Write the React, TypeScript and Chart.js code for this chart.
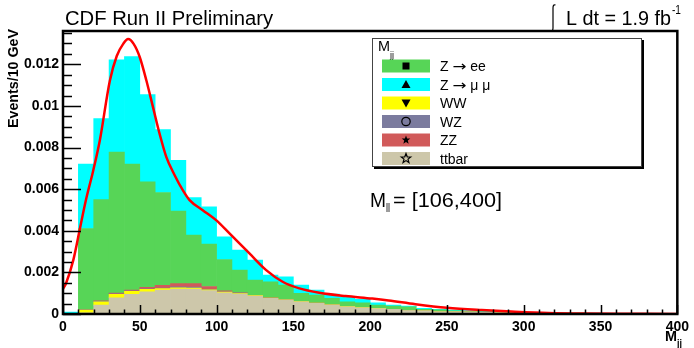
import React, { useEffect, useRef } from 'react';
import { Chart, registerables } from 'chart.js';

Chart.register(...registerables);

// ---- data ----
const binCenters = [5, 15, 25, 35, 45, 55, 65, 75, 85, 95, 105, 115, 125, 135, 145, 155, 165, 175, 185, 195,
  205, 215, 225, 235, 245, 255, 265, 275, 285, 295, 305, 315, 325, 335, 345, 355, 365, 375, 385, 395];

const ttbar = [0.00002, 0.00006, 0.00043, 0.00078, 0.00094, 0.00107, 0.00115, 0.0012, 0.0012, 0.00112,
  0.00102, 0.00096, 0.00086, 0.00075, 0.00067, 0.00059, 0.00051, 0.00043, 0.00035, 0.0003,
  0.00026, 0.00022, 0.00017, 0.00015, 0.00011, 0.0001, 0.00009, 0.00008, 0.00006, 0.00005,
  0.00004, 0.00003, 0.00003, 0.00002, 0.00002, 0.00002, 0.00001, 0.00001, 0.00001, 0.00001];
const ww = [0, 0.00013, 0.00016, 0.00017, 0.00015, 0.00011, 0.00007, 0.00006, 0.00005, 0.00004,
  0.00003, 0.00002, 0.00002, 0.00001, 0.00001, 0.00001, 0.00001, 0.00001, 0.00001, 0.00001,
  0.00001, 0, 0, 0, 0, 0, 0, 0, 0, 0, 0, 0, 0, 0, 0, 0, 0, 0, 0, 0];
const wz = [0, 0.00001, 0.00002, 0.00002, 0.00002, 0.00003, 0.00003, 0.00004, 0.00004, 0.00003,
  0.00002, 0.00002, 0.00001, 0.00001, 0.00001, 0.00001, 0, 0, 0, 0,
  0, 0, 0, 0, 0, 0, 0, 0, 0, 0, 0, 0, 0, 0, 0, 0, 0, 0, 0, 0];
const zz = [0, 0, 0.00002, 0.00003, 0.00004, 0.00007, 0.00013, 0.00016, 0.00017, 0.00013,
  0.00004, 0.00002, 0.00001, 0.00001, 0, 0, 0, 0, 0, 0,
  0, 0, 0, 0, 0, 0, 0, 0, 0, 0, 0, 0, 0, 0, 0, 0, 0, 0, 0, 0];
const zee = [0.00001, 0.00391, 0.00487, 0.00678, 0.00605, 0.00507, 0.00446, 0.00348, 0.00233, 0.00204,
  0.00151, 0.00109, 0.00073, 0.00077, 0.0007, 0.00038, 0.00039, 0.00031, 0.00023, 0.00023,
  0.00016, 0.00016, 0.00018, 0.00007, 0.00009, 0.00005, 0.00004, 0.00003, 0.00003, 0.00003,
  0.00002, 0.00002, 0.00001, 0.00002, 0.00001, 0.00001, 0.00001, 0.00001, 0.00001, 0];
const zmumu = [0.00006, 0.00309, 0.00389, 0.00444, 0.00517, 0.00419, 0.00302, 0.00245, 0.00181, 0.00179,
  0.00109, 0.00096, 0.00096, 0.00032, 0.0004, 0.0004, 0.00024, 0.00021, 0.00024, 0.00016,
  0.00011, 0.00005, 0.00003, 0.00005, 0.00002, 0.00004, 0.00003, 0.00002, 0.00001, 0,
  0.00001, 0.00001, 0.00001, 0.00001, 0.00001, 0, 0.00001, 0, 0, 0.00001];

const fitX = [0, 2, 6.7, 11, 15, 19.7, 24, 30.5, 35, 39.2, 42.4, 46, 50, 54.3, 58.6, 62.9, 67.3, 72.7, 78,
  82.4, 91, 99.7, 108.4, 121.4, 132.3, 143, 153.9, 166.9, 184, 201.4, 212, 229.5, 250, 272.6, 292, 316, 340, 370, 400];
const fitY = [0.0012, 0.00148, 0.00259, 0.0041, 0.0055, 0.0069, 0.00835, 0.01121, 0.0124, 0.01298, 0.01321,
  0.01298, 0.01234, 0.01122, 0.00994, 0.00866, 0.00754, 0.00667, 0.00595, 0.00547, 0.00499, 0.00451,
  0.00387, 0.00291, 0.00211, 0.00155, 0.00123, 0.00102, 0.00086, 0.00074, 0.00065, 0.00047, 0.0003,
  0.00019, 0.00012, 0.00005, 0.00002, 0.00001, 0.000005];

const yTickValues = [0, 0.002, 0.004, 0.006, 0.008, 0.01, 0.012];
const xTickValues = [0, 50, 100, 150, 200, 250, 300, 350, 400];

const seriesLabels = ['ttbar', 'WW', 'WZ', 'ZZ', 'Z \u2192 ee', 'Z \u2192 \u03bc \u03bc'];
const seriesColors = ['#cdc7aa', '#ffff00', '#7b7b9e', '#d15a5a', '#57d557', '#00ffff'];
const seriesValues = [ttbar, ww, wz, zz, zee, zmumu];
const legendOrder = ['Z \u2192 ee', 'Z \u2192 \u03bc \u03bc', 'WW', 'WZ', 'ZZ', 'ttbar'];
const legendMarkers = ['square', 'triUp', 'triDown', 'circle', 'star', 'openStar'];

const FONT = '"Liberation Sans", Arial, Helvetica, sans-serif';

function fitText(ctx: CanvasRenderingContext2D, text: string, x: number, y: number, font: string, width?: number) {
  ctx.save();
  ctx.font = font;
  const w = ctx.measureText(text).width;
  const s = width ? width / w : 1;
  ctx.translate(x, y);
  ctx.scale(s, 1);
  ctx.textAlign = 'left';
  ctx.textBaseline = 'alphabetic';
  ctx.fillStyle = '#000';
  ctx.fillText(text, 0, 0);
  ctx.restore();
  return w * s;
}

function star(ctx: CanvasRenderingContext2D, cx: number, cy: number, r: number, ri: number) {
  ctx.beginPath();
  for (let i = 0; i < 10; i++) {
    const a = -Math.PI / 2 + (i * Math.PI) / 5;
    const rr = i % 2 === 0 ? r : ri;
    const px = cx + rr * Math.cos(a);
    const py = cy + rr * Math.sin(a);
    if (i === 0) ctx.moveTo(px, py); else ctx.lineTo(px, py);
  }
  ctx.closePath();
}

function drawMarker(ctx: CanvasRenderingContext2D, kind: string, x: number, y: number) {
  ctx.save();
  ctx.fillStyle = '#000';
  ctx.strokeStyle = '#000';
  ctx.lineWidth = 1.2;
  if (kind === 'square') {
    ctx.fillRect(x - 3.5, y - 3.5, 7, 7);
  } else if (kind === 'triUp') {
    ctx.beginPath(); ctx.moveTo(x, y - 4.5); ctx.lineTo(x + 4.5, y + 3.5); ctx.lineTo(x - 4.5, y + 3.5); ctx.closePath(); ctx.fill();
  } else if (kind === 'triDown') {
    ctx.beginPath(); ctx.moveTo(x, y + 4.5); ctx.lineTo(x + 4.5, y - 3.5); ctx.lineTo(x - 4.5, y - 3.5); ctx.closePath(); ctx.fill();
  } else if (kind === 'circle') {
    ctx.beginPath(); ctx.arc(x, y, 4.2, 0, Math.PI * 2); ctx.stroke();
  } else if (kind === 'star') {
    star(ctx, x, y, 4.5, 1.9); ctx.fill();
  } else {
    star(ctx, x, y, 5, 2.1); ctx.stroke();
  }
  ctx.restore();
}

// legend label with a larger arrow glyph
function legendText(ctx: CanvasRenderingContext2D, lab: string, x: number, y: number) {
  const parts = lab.split('\u2192');
  if (parts.length === 1) { fitText(ctx, lab, x, y, `14px ${FONT}`); return; }
  let cx = x;
  cx += fitText(ctx, parts[0], cx, y, `14px ${FONT}`);
  cx += fitText(ctx, '\u2192', cx, y, `14px "DejaVu Sans", ${FONT}`, 14);
  fitText(ctx, parts[1], cx, y, `14px ${FONT}`);
}

const overlayPlugin = {
  id: 'overlay',
  afterDraw(chart: any) {
    const ctx: CanvasRenderingContext2D = chart.ctx;
    const { left, right, top, bottom } = chart.chartArea;
    const xs = chart.scales.x;
    const ys = chart.scales.y;
    ctx.save();

    // ticks (inside)
    ctx.strokeStyle = '#000';
    ctx.lineWidth = 1.5;
    ctx.beginPath();
    for (let k = 0; k <= 27; k++) {
      const v = k * 0.0005;
      const py = Math.round(ys.getPixelForValue(v)) + 0.5;
      if (py < top) continue;
      const len = k % 4 === 0 ? 18 : 9;
      ctx.moveTo(left, py); ctx.lineTo(left + len, py);
    }
    for (let k = 0; k <= 40; k++) {
      const px = Math.round(xs.getPixelForValue(k * 10)) + 0.5;
      const len = k % 5 === 0 ? 9 : 4.5;
      ctx.moveTo(px, bottom); ctx.lineTo(px, bottom - len);
    }
    ctx.stroke();

    // frame
    ctx.lineWidth = 2.5;
    ctx.strokeRect(left, top, right - left, bottom - top);

    // titles
    fitText(ctx, 'CDF Run II Preliminary', 65, 25, `20px ${FONT}`, 208);
    // integral sign
    ctx.save();
    ctx.strokeStyle = '#000';
    ctx.lineWidth = 1.2;
    ctx.beginPath();
    ctx.moveTo(555.5, 5);
    ctx.quadraticCurveTo(553, 4, 553, 8);
    ctx.lineTo(553, 28);
    ctx.quadraticCurveTo(553, 32, 550, 31);
    ctx.stroke();
    ctx.restore();
    fitText(ctx, 'L dt = 1.9 fb', 566, 25, `20px ${FONT}`, 105);
    fitText(ctx, '-1', 672, 14, `12px ${FONT}`, 9);

    // y axis title
    ctx.save();
    ctx.translate(18, 128);
    ctx.rotate(-Math.PI / 2);
    fitText(ctx, 'Events/10 GeV', 0, 0, `bold 14px ${FONT}`, 99);
    ctx.restore();

    // x axis title
    fitText(ctx, 'M', 665, 341, `bold 15px ${FONT}`, 12);
    fitText(ctx, 'jj', 677, 347, `bold 10px ${FONT}`, 5);

    // M_ll text
    fitText(ctx, 'M', 370, 207, `20px ${FONT}`, 16);
    fitText(ctx, 'll', 386, 212, `12px ${FONT}`, 4);
    fitText(ctx, '= [106,400]', 393, 207, `20px ${FONT}`, 109);

    // legend
    const lx = 372, ly = 38, lw = 270, lh = 129;
    ctx.fillStyle = '#000';
    ctx.fillRect(lx + 2, ly + 2, lw, lh);
    ctx.fillStyle = '#fff';
    ctx.fillRect(lx, ly, lw, lh);
    ctx.strokeStyle = '#444';
    ctx.lineWidth = 1;
    ctx.strokeRect(lx + 0.5, ly + 0.5, lw - 1, lh - 1);
    fitText(ctx, 'M', 378, 51, `14px ${FONT}`, 12);
    fitText(ctx, 'jj', 390, 58, `9px ${FONT}`, 4);

    const ds = chart.data.datasets;
    legendOrder.forEach((lab, i) => {
      const d = ds.find((q: any) => q.label === lab);
      if (!d) return;
      const cy = 66 + i * 18.5;
      ctx.fillStyle = d.backgroundColor;
      ctx.fillRect(382, cy - 6.5, 48, 13);
      drawMarker(ctx, legendMarkers[i], 406, cy);
      legendText(ctx, lab, 440, cy + 5);
    });

    ctx.restore();
  },
};

export default function App() {
  const ref = useRef<HTMLCanvasElement | null>(null);

  useEffect(() => {
    if (!ref.current) return;
    const barSets = seriesLabels.map((lab, si) => ({
      type: 'bar' as const,
      label: lab,
      data: binCenters.map((c, i) => ({ x: c, y: seriesValues[si][i] })),
      backgroundColor: seriesColors[si],
      borderWidth: 0,
      barPercentage: 1,
      categoryPercentage: 1,
      stack: 'mc',
      order: 1,
    }));
    const fitSet = {
      type: 'line' as const,
      label: 'fit',
      data: fitX.map((x, i) => ({ x, y: fitY[i] })),
      borderColor: '#ff0000',
      borderWidth: 2.5,
      pointRadius: 0,
      cubicInterpolationMode: 'monotone' as const,
      fill: false,
      order: 0,
    };
    const chart = new Chart(ref.current, {
      type: 'bar',
      data: { datasets: [fitSet as any, ...barSets] },
      options: {
        responsive: false,
        animation: false,
        devicePixelRatio: 1,
        layout: { padding: { top: 31, left: 0, right: 15, bottom: 0 } },
        plugins: { legend: { display: false }, tooltip: { enabled: false }, title: { display: false } },
        scales: {
          x: {
            type: 'linear',
            min: 0,
            max: 400,
            offset: false,
            grid: { display: false, drawTicks: false },
            border: { display: false },
            afterFit: (s: any) => { s.height = 34; },
            afterBuildTicks: (s: any) => { s.ticks = xTickValues.map((v) => ({ value: v })); },
            ticks: {
              padding: 5,
              color: '#000',
              maxRotation: 0,
              autoSkip: false,
              font: { family: FONT, size: 14, weight: 'bold' },
              callback: (v: any) => String(v),
            },
          },
          y: {
            type: 'linear',
            min: 0,
            max: 0.0136,
            grid: { display: false, drawTicks: false },
            border: { display: false },
            afterFit: (s: any) => { s.width = 63; },
            afterBuildTicks: (s: any) => { s.ticks = yTickValues.map((v) => ({ value: v })); },
            ticks: {
              padding: 4,
              color: '#000',
              font: { family: FONT, size: 14, weight: 'bold' },
              callback: (v: any) => (v === 0 ? '0' : String(+Number(v).toFixed(3))),
            },
          },
        },
      },
      plugins: [overlayPlugin],
    });
    return () => chart.destroy();
  }, []);

  return (
    <div style={{ position: 'fixed', left: 0, top: 0, width: 694, height: 348, background: '#fff' }}>
      <canvas ref={ref} width={694} height={348} style={{ display: 'block' }} />
    </div>
  );
}
